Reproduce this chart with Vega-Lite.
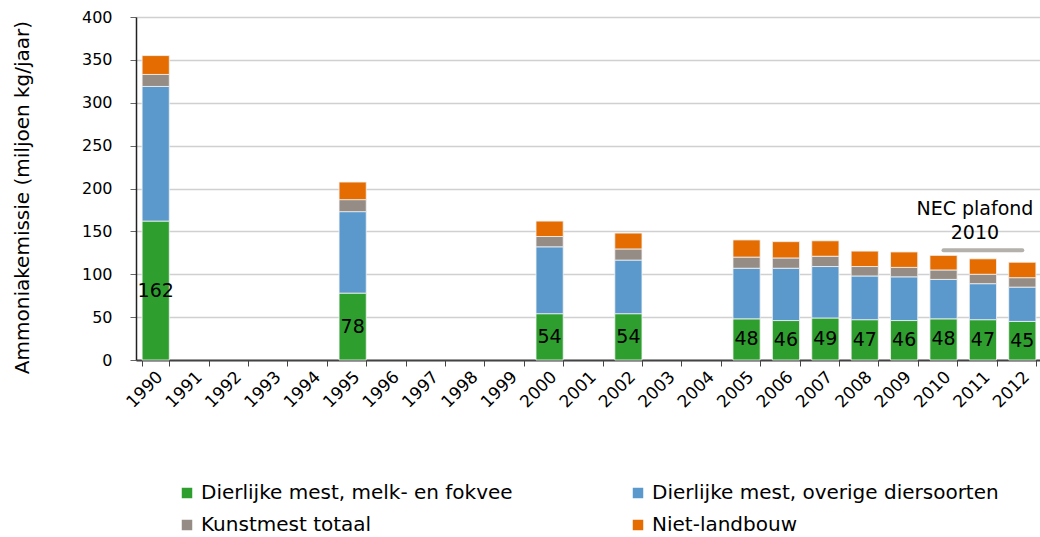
{
  "$schema": "https://vega.github.io/schema/vega-lite/v6.json",
  "width": 906,
  "height": 343,
  "autosize": {"type": "none"},
  "padding": {"left": 136, "top": 17, "right": 0, "bottom": 177},
  "background": "white",
  "config": {
    "font": "DejaVu Sans",
    "view": {"stroke": null},
    "axis": {"labelColor": "#000000", "titleColor": "#000000", "labelFont": "DejaVu Sans", "titleFont": "DejaVu Sans"}
  },
  "datasets": {
    "emissions": [
      {"year": "1990", "bron": "Dierlijke mest, melk- en fokvee", "value": 162},
      {"year": "1990", "bron": "Dierlijke mest, overige diersoorten", "value": 157},
      {"year": "1990", "bron": "Kunstmest totaal", "value": 14},
      {"year": "1990", "bron": "Niet-landbouw", "value": 22},
      {"year": "1995", "bron": "Dierlijke mest, melk- en fokvee", "value": 78},
      {"year": "1995", "bron": "Dierlijke mest, overige diersoorten", "value": 95},
      {"year": "1995", "bron": "Kunstmest totaal", "value": 14},
      {"year": "1995", "bron": "Niet-landbouw", "value": 20.5},
      {"year": "2000", "bron": "Dierlijke mest, melk- en fokvee", "value": 54},
      {"year": "2000", "bron": "Dierlijke mest, overige diersoorten", "value": 78},
      {"year": "2000", "bron": "Kunstmest totaal", "value": 12},
      {"year": "2000", "bron": "Niet-landbouw", "value": 18},
      {"year": "2002", "bron": "Dierlijke mest, melk- en fokvee", "value": 54},
      {"year": "2002", "bron": "Dierlijke mest, overige diersoorten", "value": 62.5},
      {"year": "2002", "bron": "Kunstmest totaal", "value": 13},
      {"year": "2002", "bron": "Niet-landbouw", "value": 18.5},
      {"year": "2005", "bron": "Dierlijke mest, melk- en fokvee", "value": 48},
      {"year": "2005", "bron": "Dierlijke mest, overige diersoorten", "value": 59},
      {"year": "2005", "bron": "Kunstmest totaal", "value": 13},
      {"year": "2005", "bron": "Niet-landbouw", "value": 20},
      {"year": "2006", "bron": "Dierlijke mest, melk- en fokvee", "value": 46},
      {"year": "2006", "bron": "Dierlijke mest, overige diersoorten", "value": 61},
      {"year": "2006", "bron": "Kunstmest totaal", "value": 12},
      {"year": "2006", "bron": "Niet-landbouw", "value": 19},
      {"year": "2007", "bron": "Dierlijke mest, melk- en fokvee", "value": 49},
      {"year": "2007", "bron": "Dierlijke mest, overige diersoorten", "value": 60},
      {"year": "2007", "bron": "Kunstmest totaal", "value": 12},
      {"year": "2007", "bron": "Niet-landbouw", "value": 18},
      {"year": "2008", "bron": "Dierlijke mest, melk- en fokvee", "value": 47},
      {"year": "2008", "bron": "Dierlijke mest, overige diersoorten", "value": 51},
      {"year": "2008", "bron": "Kunstmest totaal", "value": 11},
      {"year": "2008", "bron": "Niet-landbouw", "value": 18},
      {"year": "2009", "bron": "Dierlijke mest, melk- en fokvee", "value": 46},
      {"year": "2009", "bron": "Dierlijke mest, overige diersoorten", "value": 51},
      {"year": "2009", "bron": "Kunstmest totaal", "value": 11},
      {"year": "2009", "bron": "Niet-landbouw", "value": 18},
      {"year": "2010", "bron": "Dierlijke mest, melk- en fokvee", "value": 48},
      {"year": "2010", "bron": "Dierlijke mest, overige diersoorten", "value": 46},
      {"year": "2010", "bron": "Kunstmest totaal", "value": 11},
      {"year": "2010", "bron": "Niet-landbouw", "value": 17},
      {"year": "2011", "bron": "Dierlijke mest, melk- en fokvee", "value": 47},
      {"year": "2011", "bron": "Dierlijke mest, overige diersoorten", "value": 42},
      {"year": "2011", "bron": "Kunstmest totaal", "value": 11},
      {"year": "2011", "bron": "Niet-landbouw", "value": 18},
      {"year": "2012", "bron": "Dierlijke mest, melk- en fokvee", "value": 45},
      {"year": "2012", "bron": "Dierlijke mest, overige diersoorten", "value": 40},
      {"year": "2012", "bron": "Kunstmest totaal", "value": 11},
      {"year": "2012", "bron": "Niet-landbouw", "value": 18}
    ],
    "nec": [
      {"from": "2010", "to": "2012", "middle": "2011", "value": 128, "label": "NEC plafond\n2010"}
    ]
  },
  "resolve": {"scale": {"y": "independent"}},
  "layer": [
    {
      "data": {"name": "emissions"},
      "mark": {"type": "bar", "stroke": "#f2f2f2", "strokeWidth": 0.8},
      "encoding": {
        "x": {
          "field": "year", "type": "nominal",
          "scale": {
            "domain": ["1990","1991","1992","1993","1994","1995","1996","1997","1998","1999","2000","2001","2002","2003","2004","2005","2006","2007","2008","2009","2010","2011","2012"],
            "paddingInner": 0.31, "paddingOuter": 0.155
          },
          "axis": {
            "title": null, "labelAngle": -45, "labelAlign": "right", "labelBaseline": "middle",
            "labelFontSize": 17, "labelPadding": 8, "labelOffset": 4, "tickBand": "extent", "tickSize": 6,
            "tickColor": "#444444", "domainColor": "#444444", "domainWidth": 2, "grid": false
          }
        },
        "y": {
          "field": "value", "type": "quantitative", "aggregate": "sum", "stack": "zero",
          "scale": {"domain": [0, 400], "nice": false},
          "axis": {
            "title": "Ammoniakemissie (miljoen kg/jaar)", "titleFontSize": 20, "titleFontWeight": "normal",
            "values": [0,50,100,150,200,250,300,350,400],
            "labelFontSize": 16, "labelPadding": 18, "tickSize": 6, "tickColor": "#666666",
            "domainColor": "#222222", "domainWidth": 1.5,
            "gridColor": "#d0d0d0", "gridWidth": 1.5,
            "titleAngle": -90, "titleX": -114, "titleY": 180, "titleAlign": "center", "titleBaseline": "middle"
          }
        },
        "order": {"field": "bron", "sort": "ascending"},
        "color": {
          "field": "bron", "type": "nominal",
          "scale": {
            "domain": ["Dierlijke mest, melk- en fokvee", "Dierlijke mest, overige diersoorten", "Kunstmest totaal", "Niet-landbouw"],
            "range": ["#2e9e2f", "#5b99cc", "#958c85", "#e46c00"]
          },
          "legend": {
            "title": null, "orient": "none", "legendX": 41, "legendY": 466, "columns": 2, "direction": "horizontal",
            "columnPadding": 115, "rowPadding": 12, "symbolType": "square", "symbolSize": 110,
            "symbolStrokeWidth": 0, "labelFontSize": 20, "labelOffset": 4, "labelColor": "#000000", "labelLimit": 500
          }
        }
      }
    },
    {
      "data": {"name": "emissions"},
      "transform": [{"filter": "datum.bron === 'Dierlijke mest, melk- en fokvee'"}],
      "mark": {"type": "text", "fontSize": 19, "color": "#000000", "baseline": "middle", "align": "center"},
      "encoding": {
        "x": {"field": "year", "type": "nominal"},
        "y": {"field": "value", "type": "quantitative", "scale": {"domain": [0, 800], "nice": false}, "axis": null},
        "text": {"field": "value", "type": "quantitative"}
      }
    },
    {
      "data": {"name": "nec"},
      "mark": {"type": "rule", "color": "#b4b1ad", "strokeWidth": 4, "strokeCap": "round"},
      "encoding": {
        "x": {"field": "from", "type": "nominal"},
        "x2": {"field": "to"},
        "y": {"field": "value", "type": "quantitative", "scale": {"domain": [0, 400], "nice": false}, "axis": null}
      }
    },
    {
      "data": {"name": "nec"},
      "mark": {"type": "text", "fontSize": 19, "color": "#000000", "align": "center", "baseline": "bottom", "lineBreak": "\n", "lineHeight": 24, "dy": -31, "dx": -8},
      "encoding": {
        "x": {"field": "middle", "type": "nominal"},
        "y": {"field": "value", "type": "quantitative", "scale": {"domain": [0, 400], "nice": false}, "axis": null},
        "text": {"field": "label"}
      }
    }
  ]
}
